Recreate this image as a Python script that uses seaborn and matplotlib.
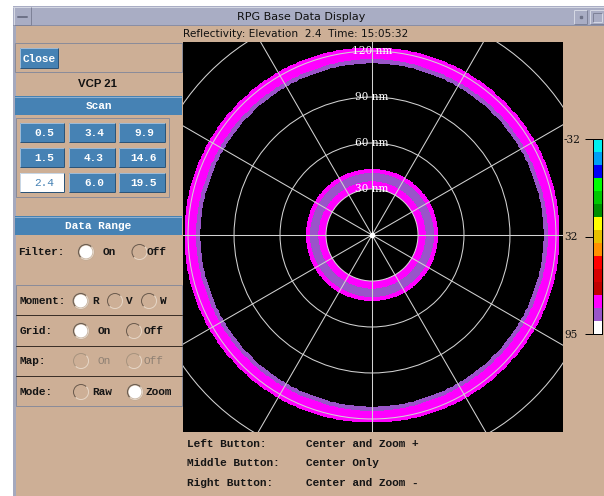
import numpy as np
import pandas as pd
import matplotlib
matplotlib.use("Agg")
import matplotlib.pyplot as plt
import matplotlib.patches as mpatches
from matplotlib.colors import ListedColormap
import seaborn as sns

# ---------------- data ----------------
window_title = "RPG Base Data Display"
subtitle = "Reflectivity: Elevation  2.4  Time: 15:05:32"
vcp_label = "VCP 21"
scan_elevations = ["0.5", "3.4", "9.9", "1.5", "4.3", "14.6", "2.4", "6.0", "19.5"]
selected_scan = "2.4"
range_ring_nm = [30, 60, 90, 120, 150]
range_ring_labels = ["30 nm", "60 nm", "90 nm", "120 nm"]
spoke_deg = [0, 30, 60, 90, 120, 150, 180, 210, 240, 270, 300, 330]
# radar echo bands (range in nm) and colour-table level index
echo_start_nm = [30.0, 35.0, 40.5, 112.0, 114.8]
echo_end_nm = [35.0, 40.5, 43.0, 114.8, 122.3]
echo_level = [12, 13, 12, 13, 12]
cbar_colors = ["#00F0F0", "#00A0F6", "#0000F6", "#00FF00", "#00C800", "#009000",
               "#FFFF00", "#E7C000", "#FF9000", "#FF0000", "#D60000", "#C00000",
               "#FF00FF", "#9955C9", "#FFFFFF"]
cbar_tick_labels = ["-32", "32", "95"]
mouse_buttons = ["Left Button:", "Middle Button:", "Right Button:"]
mouse_actions = ["Center and Zoom +", "Center Only", "Center and Zoom -"]

# ---------------- style ----------------
sns.set_theme(style="white")
plt.rcParams["font.family"] = ["DejaVu Sans"]

TAN = "#CDAF96"
BLUE = "#4682B4"
TITLEBAR = "#A9ADC4"
MONO = ["Liberation Mono", "DejaVu Sans Mono"]
PX = 0.72  # one pixel in points at 100 dpi

fig = plt.figure(figsize=(6.04, 4.96), dpi=100, facecolor="white")
bg = fig.add_axes([0, 0, 1, 1])
bg.set_xlim(0, 604)
bg.set_ylim(496, 0)
bg.axis("off")


def rect(x0, y0, x1, y1, fc="none", ec="none", lw=PX, z=1):
    bg.add_patch(mpatches.Rectangle((x0, y0), x1 - x0, y1 - y0, facecolor=fc,
                                    edgecolor=ec, linewidth=lw, zorder=z))


def bevel(x0, y0, x1, y1, light, dark, z=3):
    bg.plot([x0, x1], [y0, y0], color=light, lw=PX, zorder=z, solid_capstyle="butt")
    bg.plot([x0, x0], [y0, y1], color=light, lw=PX, zorder=z, solid_capstyle="butt")
    bg.plot([x0, x1], [y1, y1], color=dark, lw=PX, zorder=z, solid_capstyle="butt")
    bg.plot([x1, x1], [y0, y1], color=dark, lw=PX, zorder=z, solid_capstyle="butt")


def mono(x, y, s, color="#151515", ha="left", size=8, weight="bold"):
    bg.text(x, y, s, ha=ha, va="center", color=color, fontsize=size,
            family=MONO, fontweight=weight, zorder=5)


# window
rect(13, 6, 604, 496, fc=TAN, z=0.5)
rect(13, 6, 15.5, 496, fc="#A5A9BE", z=1)
rect(13, 6, 604, 25, fc=TITLEBAR, z=1)
bg.plot([13, 604], [6.5, 6.5], color="#D4D7E3", lw=PX, zorder=2)
bg.plot([13, 604], [25, 25], color="#8A8EA4", lw=PX, zorder=2)
bevel(13.5, 7, 30.5, 24.5, "#D4D7E3", "#7E8298")
bg.plot([18, 27], [16.5, 16.5], color="#6E7288", lw=2 * PX, zorder=3)
rect(574, 10, 587, 24, fc=TITLEBAR, z=2)
bevel(574, 10, 587, 24, "#D4D7E3", "#7E8298")
bg.plot([581], [17], marker="s", ms=2, color="#6E7288", zorder=3)
rect(590, 10, 603.5, 24, fc=TITLEBAR, z=2)
bevel(590, 10, 603.5, 24, "#D4D7E3", "#7E8298")
bevel(593, 13, 602, 22, "#7E8298", "#D4D7E3")
bg.text(301, 16.5, window_title, ha="center", va="center", fontsize=8,
        color="#111111", zorder=5)
bg.text(183, 34, subtitle, ha="left", va="center", fontsize=7.6,
        color="#111111", zorder=5)

# Close box
rect(14.5, 42.5, 182, 72, ec="#8B8C99")
rect(20, 48, 58, 68, fc=BLUE, z=2)
bevel(20, 48, 58, 68, "#9DBAD6", "#2C5478")
mono(39, 58.5, "Close", color="white", ha="center")

bg.text(98, 84, vcp_label, ha="center", va="center", fontsize=8.2,
        fontweight="bold", family=["Liberation Sans", "DejaVu Sans"],
        color="#111111", zorder=5)

# Scan header and buttons
rect(15, 96, 182, 115, fc=BLUE, z=2)
bg.plot([15, 182], [96.5, 96.5], color="#8FB0CF", lw=PX, zorder=3)
mono(98.5, 106, "Scan", color="white", ha="center")
rect(15.5, 117.5, 168.5, 197, ec="#8B8C99")
cols = [(20, 64), (69, 115), (119, 165)]
rows = [(123, 142), (148, 167), (173, 192)]
for i, lab in enumerate(scan_elevations):
    (x0, x1), (y0, y1) = cols[i % 3], rows[i // 3]
    sel = lab == selected_scan
    rect(x0, y0, x1, y1, fc="white" if sel else BLUE, z=2)
    bevel(x0, y0, x1, y1, "#C8D6E4" if sel else "#9DBAD6", "#2C5478")
    mono((x0 + x1) / 2 + 2, (y0 + y1) / 2 + 0.5, lab,
         color=BLUE if sel else "white", ha="center", weight="normal" if sel else "bold")

# Data range
rect(15, 216, 182, 235, fc=BLUE, z=2)
bg.plot([15, 182], [216.5, 216.5], color="#8FB0CF", lw=PX, zorder=3)
mono(98.5, 226, "Data Range", color="white", ha="center")


def radio(cx, cy, selected, disabled=False, r=7.5):
    if selected:
        bg.add_patch(mpatches.Circle((cx, cy), r, facecolor="white",
                                     edgecolor="#BDA995", linewidth=2 * PX, zorder=3))
    dark = "#A8947F" if disabled else "#6B5B4E"
    light = "#E6D6C6"
    bg.add_patch(mpatches.Arc((cx, cy), 2 * r, 2 * r, theta1=135, theta2=315,
                              color=dark, lw=PX, zorder=4))
    bg.add_patch(mpatches.Arc((cx, cy), 2 * r, 2 * r, theta1=315, theta2=495,
                              color=light, lw=PX, zorder=4))


# Filter row
mono(18, 252, "Filter:")
radio(86, 252, True)
mono(103, 252, "On")
radio(139.5, 252, False)
mono(147, 252, "Off")

# lower box
rect(15.5, 284.5, 182, 406, ec="#8B8C99")
for yy in [315, 346, 376]:
    bg.plot([15.5, 182], [yy, yy], color="#3C3028", lw=PX, zorder=2)

mono(19, 301, "Moment:")
radio(80.7, 301, True)
mono(92, 301, "R")
radio(115, 301, False)
mono(126, 301, "V")
radio(149, 301, False)
mono(160, 301, "W")

mono(20, 331, "Grid:")
radio(81, 331, True)
mono(98, 331, "On")
radio(134, 331, False)
mono(144, 331, "Off")

GRAY = "#8E8073"
mono(19, 361, "Map:")
radio(81, 361, False, disabled=True)
mono(98, 361, "On", color=GRAY, weight="normal")
radio(134, 361, False, disabled=True)
mono(144, 361, "Off", color=GRAY, weight="normal")

mono(19, 392, "Mode:")
radio(81, 392, False)
mono(92, 392, "Raw")
radio(135, 392, True)
mono(146, 392, "Zoom")

# mouse help text
for i, (b, a) in enumerate(zip(mouse_buttons, mouse_actions)):
    y = 444 + i * 19.5
    mono(187, y, b)
    mono(306, y, a)

# ---------------- radar display ----------------
ax = fig.add_axes([183 / 604, 64 / 496, 380 / 604, 390 / 496])
ax.set_facecolor("black")
cmap = ListedColormap(cbar_colors)

r_edges = np.unique(np.concatenate([[0.0], echo_start_nm, echo_end_nm, [250.0]]))
r_mid = (r_edges[:-1] + r_edges[1:]) / 2
levels = np.full(r_mid.shape, np.nan)
for s, e, lv in zip(echo_start_nm, echo_end_nm, echo_level):
    levels[(r_mid >= s) & (r_mid < e)] = lv
az_edges = np.deg2rad(np.arange(0, 360.01, 1.0))
R, A = np.meshgrid(r_edges, az_edges)
X = R * np.sin(A)
Y = R * np.cos(A)
C = np.ma.masked_invalid(np.tile(levels, (len(az_edges) - 1, 1)))
ax.pcolormesh(X, Y, C, cmap=cmap, vmin=-0.5, vmax=len(cbar_colors) - 0.5,
              shading="flat", antialiased=False, edgecolors="none", zorder=1)

GRID = "#D2D2D2"
for rr in range_ring_nm:
    ax.add_patch(mpatches.Circle((0, 0), rr, fill=False, edgecolor=GRID,
                                 linewidth=0.75, zorder=2))
for a in spoke_deg:
    t = np.deg2rad(a)
    ax.plot([0, 250 * np.sin(t)], [0, 250 * np.cos(t)], color=GRID, lw=0.75, zorder=2)
ax.plot([0], [0], "o", color="white", ms=3, zorder=3)
for rr, lab in zip(range_ring_nm, range_ring_labels):
    ax.text(0, rr, lab, ha="center", va="center", color="white", fontsize=7.6,
            family=["DejaVu Serif"], zorder=4)

ax.set_xlim(-123.3, 124.6)
ax.set_ylim(-128.5, 125.9)
ax.set_xticks([])
ax.set_yticks([])
for s in ax.spines.values():
    s.set_visible(False)

# ---------------- colour bar ----------------
cax = fig.add_axes([593 / 604, (496 - 334) / 496, 9 / 604, 195 / 496])
cdf = pd.DataFrame({"level": np.arange(len(cbar_colors))})
sns.heatmap(cdf, ax=cax, cmap=cmap, cbar=False, xticklabels=False,
            yticklabels=False, vmin=-0.5, vmax=len(cbar_colors) - 0.5)
cax.set_yticks([0, len(cbar_colors) / 2, len(cbar_colors)])
cax.set_yticklabels(cbar_tick_labels, family=["DejaVu Serif"], fontsize=7.6,
                    color="#111111")
cax.tick_params(axis="y", left=True, length=8 * PX, width=PX, color="black",
                pad=21 * PX, labelrotation=0)
for t in cax.get_yticklabels():
    t.set_horizontalalignment("left")
for s in cax.spines.values():
    s.set_visible(True)
    s.set_color("black")
    s.set_linewidth(PX)

fig.savefig("out.png", dpi=100, facecolor="white")
